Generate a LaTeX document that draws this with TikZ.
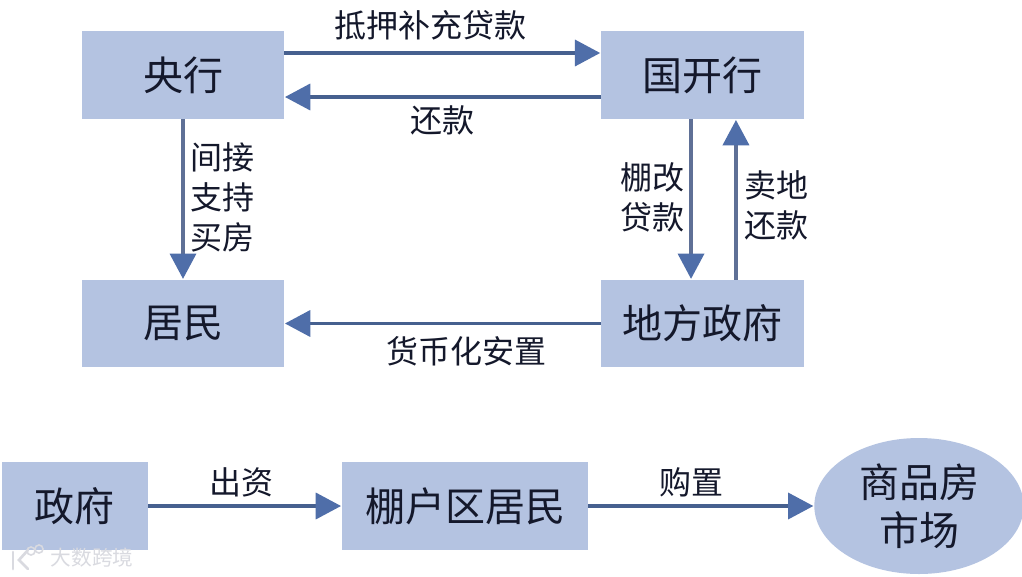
\documentclass[tikz,border=0pt]{standalone}
\usepackage{fontspec}
\setmainfont{Noto Sans CJK SC}
\usetikzlibrary{arrows.meta,shapes.geometric}
\definecolor{boxfill}{HTML}{B4C3E1}
\definecolor{linecol}{HTML}{46608F}
\definecolor{vlinecol}{HTML}{5F7096}
\definecolor{headcol}{HTML}{4F6EA9}
\definecolor{inkcol}{HTML}{14182B}
\definecolor{markcol}{HTML}{D9DAE0}
\tikzset{
  x=.75pt,y=-.75pt,
  box/.style={rectangle,fill=boxfill,draw=none,inner sep=0pt,text=inkcol,font=\fontsize{30}{30}\selectfont},
  oval/.style={ellipse,fill=boxfill,draw=none,inner sep=0pt,text=inkcol,font=\fontsize{30}{36}\selectfont,align=center},
  conn/.style={line width=2.7pt,draw=linecol,-{Triangle[length=19pt,width=19.5pt,fill=headcol,color=headcol]},shorten >=0.5pt},
  vconn/.style={conn,draw=vlinecol},
  lab/.style={inner sep=0pt,text=inkcol,font=\fontsize{24}{30}\selectfont,align=center}
}
\begin{document}
\begin{tikzpicture}
\useasboundingbox (0,0) rectangle (1022,576);
\fill[white] (0,0) rectangle (1022,576);
% main boxes
\node[box,minimum width=151.5pt,minimum height=66pt] (yh) at (183,75) {央行};
\node[box,minimum width=152pt,minimum height=66pt] (gk) at (702.5,75) {国开行};
\node[box,minimum width=151.5pt,minimum height=65.5pt] (jm) at (183,323.5) {居民};
\node[box,minimum width=152pt,minimum height=65.5pt] (df) at (702.5,323.5) {地方政府};
\node[box,minimum width=109.5pt,minimum height=66pt] (zf) at (75,506) {政府};
\node[box,minimum width=184.5pt,minimum height=66pt] (ph) at (465,506) {棚户区居民};
\node[oval,minimum width=157pt,minimum height=102pt] (sc) at (919,506) {商品房\\市场};
% connectors
\draw[conn] ([yshift=16.5pt]yh.east) -- ([yshift=16.5pt]gk.west);
\draw[conn] ([yshift=-16.5pt]gk.west) -- ([yshift=-16.5pt]yh.east);
\draw[vconn] (yh.south) -- (jm.north);
\draw[vconn] ([xshift=-8.6pt]gk.south) -- ([xshift=-8.6pt]df.north);
\draw[vconn] ([xshift=25.1pt]df.north) -- ([xshift=25.1pt]gk.south);
\draw[conn] (df.west) -- (jm.east);
\draw[conn] (zf.east) -- (ph.west);
\draw[conn] (ph.east) -- (sc.west);
% labels
\node[lab] (l1) at (430.5,25) {抵押补充贷款};
\node[lab] (l2) at (442,120) {还款};
\node[lab] (l3) at (222.5,197) {间接\\支持\\买房};
\node[lab] (l4) at (652,197) {棚改\\贷款};
\node[lab] (l5) at (776,205) {卖地\\还款};
\node[lab] (l6) at (466,351) {货币化安置};
\node[lab] (l7) at (241,482) {出资};
\node[lab] (l8) at (691,482) {购置};
% watermark
\node[inner sep=0pt,text=markcol,font=\fontsize{15.5}{16}\selectfont] (wm) at (92,558) {大数跨境};
\draw[markcol,line width=2pt,line cap=round] (13,552) -- (13,569);
\draw[markcol,line width=2pt,line cap=round] (28,550) -- (19,560) -- (28,569);
\draw[markcol,line width=1.2pt] (31,551) circle[radius=4];
\draw[markcol,line width=1.2pt] (39,549) circle[radius=4];
\end{tikzpicture}
\end{document}
